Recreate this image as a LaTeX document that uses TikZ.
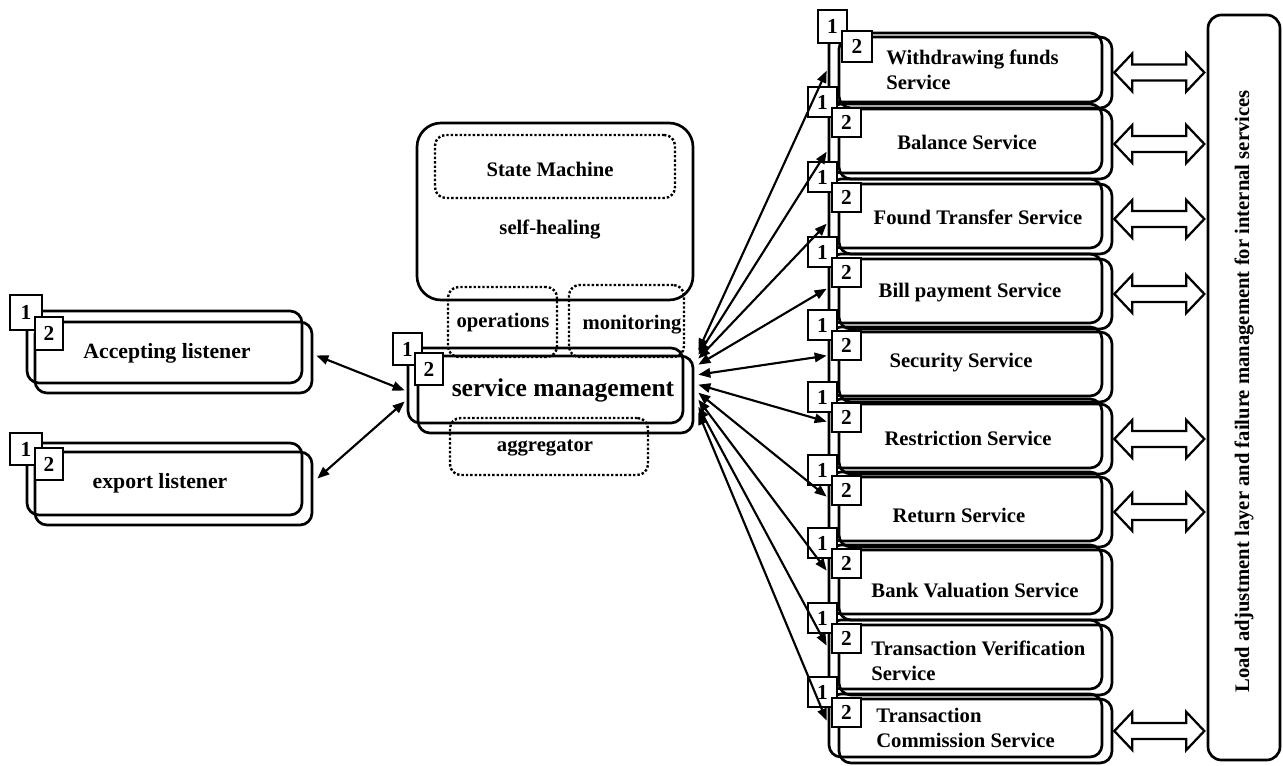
\documentclass[tikz,border=0pt]{standalone}
\usepackage{fontspec}
\setmainfont{Liberation Serif}
\usetikzlibrary{fit,calc,arrows.meta}

\begin{document}
\begin{tikzpicture}[x=0.75pt,y=-0.75pt,
  frame/.style={draw, line width=2pt, rounded corners=9pt, inner sep=0pt},
  tag/.style={draw, fill=white, line width=1.7pt, inner sep=0pt,
    label={[inner sep=0pt, font=\fontsize{16}{16}\selectfont\bfseries]center:#1}},
  dots/.style={draw, line width=1.8pt, dash pattern=on 1.8pt off 1.5pt,
    rounded corners=8pt, inner sep=0pt},
  lbl/.style={font=\fontsize{15.5}{18.75}\selectfont\bfseries, inner sep=0pt},
  biglbl/.style={font=\fontsize{16.3}{18}\selectfont\bfseries, inner sep=0pt},
  link/.style={line width=1.6pt,
    {Triangle[length=9pt,width=7pt]}-{Triangle[length=9pt,width=7pt]}},
  wide/.style={draw, line width=1.7pt, line join=miter, fill=white}
]
\useasboundingbox (0,0) rectangle (1283,766);

% ---------- listeners ----------
\node[frame, fit={(27,311) (302,383)}] (acc1) {};
\node[frame, fit={(35,322) (312,393)}] (acc2) {};
\node[tag=1, fit={(10,295) (42,330)}] (acc1t) {};
\node[tag=2, fit={(35,317) (63,350)}] (acc2t) {};
\node[biglbl] (acctxt) at (167,353) {Accepting listener};

\node[frame, fit={(27,443) (302,515)}] (exp1) {};
\node[frame, fit={(35,452) (312,525)}] (exp2) {};
\node[tag=1, fit={(10,433) (42,465)}] (exp1t) {};
\node[tag=2, fit={(35,448) (63,480)}] (exp2t) {};
\node[biglbl] (exptxt) at (160,483) {export listener};

% ---------- service management block ----------
\node[frame, rounded corners=18pt, fit={(417,123) (693,300)}] (heal) {};
\node[dots, fit={(435,135) (675,198)}] (state) {};
\node[lbl] (statetxt) at (550,169) {State Machine};
\node[lbl] (healtxt) at (550,230) {self-healing};
\node[dots, fit={(448,287) (557,357)}] (ops) {};
\node[dots, fit={(569,285) (684,357)}] (mon) {};
\node[dots, fit={(450,418) (648,475)}] (agg) {};
\node[lbl] (opstxt) at (503,323) {operations};
\node[lbl] (montxt) at (632,325) {monitoring};
\node[lbl] (aggtxt) at (545,448) {aggregator};

\node[frame, fit={(408,348) (683,423)}] (sm1) {};
\node[frame, fit={(418,356) (693,433)}] (sm2) {};
\node[tag=1, fit={(393,333) (422,365)}] (sm1t) {};
\node[tag=2, fit={(415,353) (443,385)}] (sm2t) {};
\node[font=\fontsize{19.2}{20}\selectfont\bfseries, inner sep=0pt] (smtxt) at (563,390) {service management};

% ---------- internal services ----------
\node[frame, fit={(829,33) (1102,102)}] (s1a) {};
\node[frame, fit={(839,37) (1112,108)}] (s1b) {};
\foreach \k/\y in {2/87,3/162,4/237,5/310,6/382,7/455,8/528,9/603} {
  \node[frame, fit={(829,\y+17) (1102,\y+86)}] (s\k a) {};
  \node[frame, fit={(839,\y+22) (1112,\y+92)}] (s\k b) {};
}
\node[frame, fit={(829,694) (1102,757)}] (s10a) {};
\node[frame, fit={(839,699) (1112,763)}] (s10b) {};

\node[tag=1, fit={(818,10) (847,43)}] (s1t1) {};
\node[tag=2, fit={(842,31) (872,62)}] (s1t2) {};
\foreach \k/\y in {2/87,3/162,4/237,5/310,6/382,7/455,8/528,9/603,10/677} {
  \node[tag=1, fit={(808,\y) (837,\y+30)}] (s\k t1) {};
  \node[tag=2, fit={(832,\y+21) (861,\y+50)}] (s\k t2) {};
}

\node[lbl, anchor=west, align=left] (s1txt) at (886,70) {Withdrawing funds\\Service};
\node[lbl] (s2txt) at (967,142) {Balance Service};
\node[lbl] (s3txt) at (978,217) {Found Transfer Service};
\node[lbl] (s4txt) at (970,293) {Bill payment Service};
\node[lbl] (s5txt) at (961,363) {Security Service};
\node[lbl] (s6txt) at (968,438) {Restriction Service};
\node[lbl] (s7txt) at (959,515) {Return Service};
\node[lbl] (s8txt) at (975,590) {Bank Valuation Service};
\node[lbl, anchor=west, align=left] (s9txt) at (871,661) {Transaction Verification\\Service};
\node[lbl, anchor=west, align=left] (s10txt) at (876,728) {Transaction\\Commission Service};

% ---------- load adjustment layer ----------
\node[frame, rounded corners=10pt, fit={(1208,15) (1280,760)}] (load) {};
\node[lbl, rotate=90] (loadtxt) at ($(load.center)+(0,4)$)
  {Load adjustment layer and failure management for internal services};

% ---------- connectors ----------
\draw[link] ($(acc2.east)+(3,-2)$) -- ($(sm1.west)+(-2,5)$);
\draw[link] ($(exp2.east)+(4,-10)$) -- ($(sm1.west)+(-2,16)$);

\foreach \k/\d/\o in {1/-4/39,2/0/49,3/4/46,4/10/36,5/20/30,6/30/24,7/38/26,8/45/27,9/52/27,10/58/28} {
  \draw[link] ($(sm2.north east)+(4,\d)$) -- ($(s\k a.north west)+(-1,\o)$);
}

% wide two-way arrows between services and the load layer
\foreach \k in {1,2,3,4,6,7,10} {
  \draw[wide] ($(s\k b.east)+(1,0)$) -- ++(18,-19) -- ++(0,11) -- ++(54,0)
    -- ++(0,-11) -- ++(18,19) -- ++(-18,19) -- ++(0,-11) -- ++(-54,0)
    -- ++(0,11) -- cycle;
}
\end{tikzpicture}
\end{document}
